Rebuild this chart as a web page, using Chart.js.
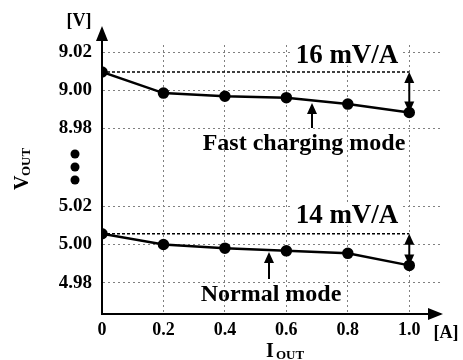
<!DOCTYPE html>
<html lang="en">
<head>
    <meta charset="UTF-8">
    <title>VOUT vs IOUT</title>
    <style>
        *{ margin:0; padding:0; }
        body{ background:#fff; }
        .wrap{ width:463px; height:360px; }
    </style>
</head>
<body>
    <div class="wrap"><canvas id="chart"></canvas></div>
    <script src="https://cdn.jsdelivr.net/npm/chart.js@4.4.0/dist/chart.umd.min.js"></script>
    <script>
        // values
        const iout = [0, 0.2, 0.4, 0.6, 0.8, 1.0];
        const fastMode = [9.0095, 8.9984, 8.9967, 8.9960, 8.9926, 8.9882];
        const normalMode = [5.0056, 5.0000, 4.9981, 4.9967, 4.9954, 4.9891];
        const xTicks = [0, 0.2, 0.4, 0.6, 0.8, 1.0];
        const topTicks = [8.98, 9.00, 9.02];
        const bottomTicks = [4.98, 5.00, 5.02];
        const fastSlope = '16 mV/A';
        const normalSlope = '14 mV/A';

        const SERIF = '"Liberation Serif", "Times New Roman", serif';
        Chart.defaults.font.family = SERIF;
        Chart.defaults.font.weight = 'bold';
        Chart.defaults.color = '#000';

        const pts = (ys) => iout.map((x, i) => ({x: x, y: ys[i]}));
        const refLine = (ys) => [{x: iout[0], y: ys[0]}, {x: iout[iout.length - 1], y: ys[0]}];

        function arrowHead(ctx, x, y, dir, len, half) {
            // dir: 'up','down','right'
            ctx.beginPath();
            if (dir === 'up') { ctx.moveTo(x, y); ctx.lineTo(x - half, y + len); ctx.lineTo(x + half, y + len); }
            if (dir === 'down') { ctx.moveTo(x, y); ctx.lineTo(x - half, y - len); ctx.lineTo(x + half, y - len); }
            if (dir === 'right') { ctx.moveTo(x, y); ctx.lineTo(x - len, y - half); ctx.lineTo(x - len, y + half); }
            ctx.closePath();
            ctx.fill();
        }

        function label(ctx, text, x, y, size, bg) {
            ctx.font = 'bold ' + size + 'px ' + SERIF;
            ctx.textAlign = 'center';
            ctx.textBaseline = 'alphabetic';
            if (bg) {
                const w = ctx.measureText(text).width;
                ctx.fillStyle = '#fff';
                ctx.fillRect(x - w / 2 - 4, y - size * 0.75, w + 8, size * 0.85);
            }
            ctx.fillStyle = '#000';
            ctx.fillText(text, x, y);
        }

        const decor = {
            id: 'decor',
            afterDraw(chart) {
                const ctx = chart.ctx;
                const a = chart.chartArea;
                const sx = chart.scales.x, st = chart.scales.yTop, sb = chart.scales.yBot;
                ctx.save();
                ctx.fillStyle = '#000';
                ctx.strokeStyle = '#000';
                ctx.lineWidth = 2;

                // axis arrows
                ctx.beginPath(); ctx.moveTo(a.left, a.top); ctx.lineTo(a.left, 36); ctx.stroke();
                arrowHead(ctx, a.left, 26, 'up', 15, 6);
                ctx.beginPath(); ctx.moveTo(a.right, a.bottom); ctx.lineTo(433, a.bottom); ctx.stroke();
                arrowHead(ctx, 443, a.bottom, 'right', 15, 6);

                // axis unit labels
                ctx.textAlign = 'center';
                ctx.font = 'bold 18px ' + SERIF;
                ctx.fillText('[V]', 79, 26);
                ctx.fillText('[A]', 446, 338);

                // I_OUT
                ctx.textAlign = 'left';
                ctx.font = 'bold 20px ' + SERIF;
                ctx.fillText('I', 266, 357);
                ctx.font = 'bold 13px ' + SERIF;
                ctx.fillText('OUT', 276, 359);

                // V_OUT (rotated)
                ctx.save();
                ctx.translate(28, 190);
                ctx.rotate(-Math.PI / 2);
                ctx.font = 'bold 20px ' + SERIF;
                ctx.fillText('V', 0, 0);
                ctx.font = 'bold 13px ' + SERIF;
                ctx.fillText('OUT', 14, 2);
                ctx.restore();

                // axis break dots
                [154, 167, 180].forEach(y => {
                    ctx.beginPath(); ctx.arc(75, y, 4.5, 0, Math.PI * 2); ctx.fill();
                });

                // double arrows at the last point
                const xe = sx.getPixelForValue(iout[iout.length - 1]);
                [[st, fastMode], [sb, normalMode]].forEach(([s, ys]) => {
                    const y1 = s.getPixelForValue(ys[0]);
                    const y2 = s.getPixelForValue(ys[ys.length - 1]);
                    ctx.beginPath(); ctx.moveTo(xe, y1 + 6); ctx.lineTo(xe, y2 - 6); ctx.stroke();
                    arrowHead(ctx, xe, y1, 'up', 11, 5);
                    arrowHead(ctx, xe, y2, 'down', 11, 5);
                });

                // slope labels
                label(ctx, fastSlope, 347, 63, 27, true);
                label(ctx, normalSlope, 347, 223, 27, true);

                // mode labels + arrows
                label(ctx, 'Fast charging mode', 304, 150, 24, false);
                ctx.beginPath(); ctx.moveTo(312, 128); ctx.lineTo(312, 110); ctx.stroke();
                arrowHead(ctx, 312, 103, 'up', 11, 5);
                label(ctx, 'Normal mode', 271, 301, 24, false);
                ctx.beginPath(); ctx.moveTo(269, 279); ctx.lineTo(269, 259); ctx.stroke();
                arrowHead(ctx, 269, 252, 'up', 11, 5);

                ctx.restore();
            }
        };

        const gridStyle = { color: '#808080', lineWidth: 1, drawTicks: false };
        const borderStyle = { color: '#000', width: 2, dash: [2, 3] };

        new Chart(document.getElementById('chart'), {
            type: 'line',
            data: {
                datasets: [{
                    label: 'Fast charging mode',
                    data: pts(fastMode),
                    yAxisID: 'yTop',
                    borderColor: '#000',
                    backgroundColor: '#000',
                    borderWidth: 2.5,
                    pointRadius: 4.5,
                },{
                    label: 'Normal mode',
                    data: pts(normalMode),
                    yAxisID: 'yBot',
                    borderColor: '#000',
                    backgroundColor: '#000',
                    borderWidth: 2.5,
                    pointRadius: 4.5,
                },{
                    label: 'fast ref',
                    data: refLine(fastMode),
                    yAxisID: 'yTop',
                    borderColor: '#000',
                    borderWidth: 1.5,
                    borderDash: [3, 2],
                    pointRadius: 0,
                },{
                    label: 'normal ref',
                    data: refLine(normalMode),
                    yAxisID: 'yBot',
                    borderColor: '#000',
                    borderWidth: 1.5,
                    borderDash: [3, 2],
                    pointRadius: 0,
                }]
            },
            options: {
                responsive: true,
                maintainAspectRatio: false,
                animation: false,
                layout: { padding: { top: 45, right: 23, bottom: 16, left: 0 } },
                plugins: { legend: { display: false }, tooltip: { enabled: false } },
                scales: {
                    x: {
                        type: 'linear',
                        min: 0,
                        max: 1.1,
                        afterBuildTicks: s => { s.ticks = xTicks.map(v => ({value: v})); },
                        afterFit: s => { s.height = 30; },
                        grid: gridStyle,
                        border: borderStyle,
                        ticks: {
                            padding: 6,
                            font: { size: 18, weight: 'bold' },
                            callback: v => v === 0 ? '0' : Number(v).toFixed(1)
                        }
                    },
                    // first axis in a stack goes to the bottom
                    yBot: {
                        type: 'linear',
                        position: 'left',
                        stack: 'v',
                        stackWeight: 147,
                        min: 4.9637,
                        max: 5.0405,
                        afterBuildTicks: s => { s.ticks = bottomTicks.map(v => ({value: v})); },
                        afterFit: s => { s.width = 102; },
                        grid: gridStyle,
                        border: borderStyle,
                        ticks: { padding: 10, font: { size: 19, weight: 'bold' }, callback: v => Number(v).toFixed(2) }
                    },
                    yTop: {
                        type: 'linear',
                        position: 'left',
                        stack: 'v',
                        stackWeight: 122,
                        min: 8.9595,
                        max: 9.0237,
                        afterBuildTicks: s => { s.ticks = topTicks.map(v => ({value: v})); },
                        afterFit: s => { s.width = 102; },
                        grid: gridStyle,
                        border: borderStyle,
                        ticks: { padding: 10, font: { size: 19, weight: 'bold' }, callback: v => Number(v).toFixed(2) }
                    }
                }
            },
            plugins: [decor]
        });
    </script>
</body>
</html>
